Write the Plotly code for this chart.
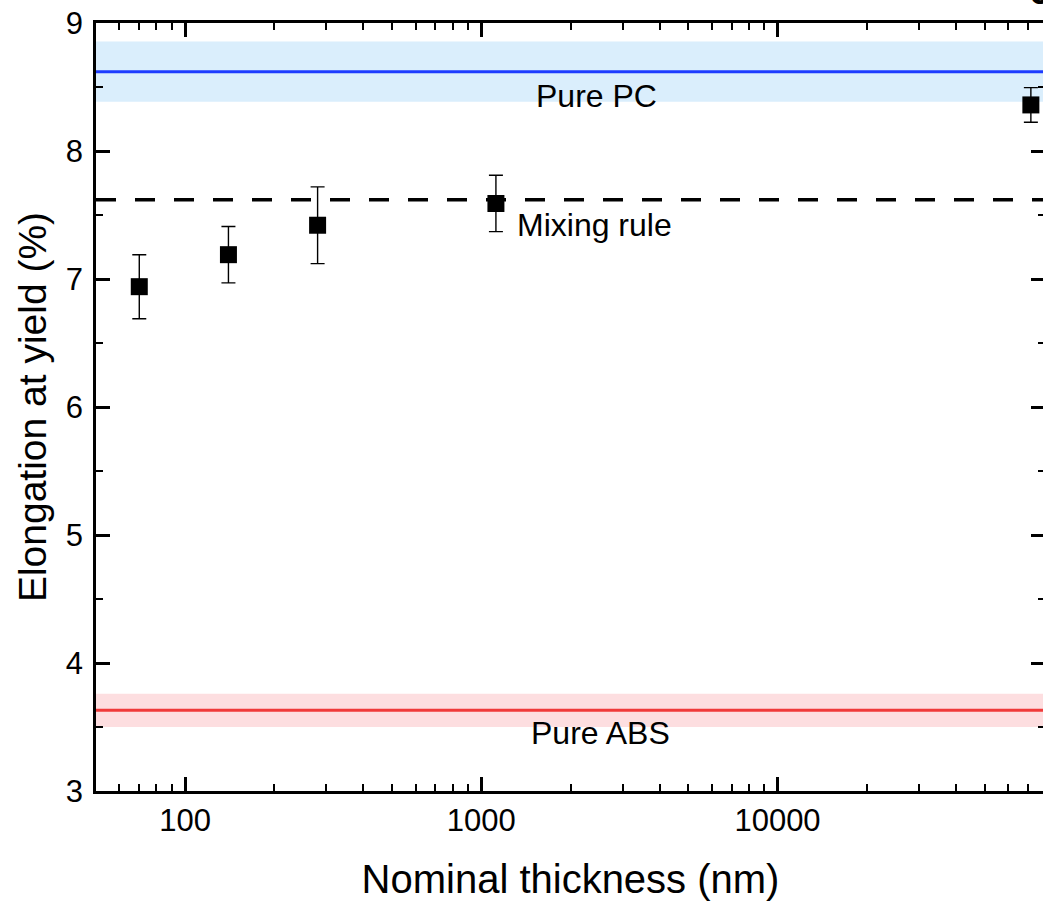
import math
import plotly.graph_objects as go

# measured films
thickness_nm = [70, 140, 280, 1120, 71680]
elongation = [6.94, 7.19, 7.42, 7.59, 8.36]
elongation_err = [0.25, 0.22, 0.30, 0.22, 0.135]

# reference values
pc_mean, pc_sd = 8.62, 0.235
abs_mean, abs_sd = 3.63, 0.13
mixing_rule = 7.62

x_major = [100, 1000, 10000]
x_minor = [60, 70, 80, 90] + [d * 100 for d in range(2, 10)] + \
          [d * 1000 for d in range(2, 10)] + [d * 10000 for d in range(2, 8)]

FONT = "Liberation Sans, Arial, sans-serif"

fig = go.Figure()

# bands and reference lines
fig.add_hrect(y0=pc_mean - pc_sd, y1=pc_mean + pc_sd, fillcolor='#DAEEFC',
              line_width=0, layer='below')
fig.add_hrect(y0=abs_mean - abs_sd, y1=abs_mean + abs_sd, fillcolor='#FDDEE0',
              line_width=0, layer='below')
fig.add_hline(y=pc_mean, line_color='#1E3CFF', line_width=3, layer='below')
fig.add_hline(y=abs_mean, line_color='#F03A3A', line_width=3, layer='below')
fig.add_hline(y=mixing_rule, line_color='black', line_width=3.5,
              line_dash='20px,19px', layer='below')

fig.add_trace(go.Scatter(
    x=thickness_nm, y=elongation,
    mode='markers',
    marker=dict(symbol='square', size=17, color='black'),
    error_y=dict(type='data', array=elongation_err, color='black',
                 thickness=1.4, width=7),
    showlegend=False,
))

label_font = dict(family=FONT, size=32, color='black')
fig.add_annotation(x=math.log10(2440), y=8.43, text='Pure PC', showarrow=False,
                   font=label_font)
fig.add_annotation(x=math.log10(1300), y=7.42, text='Mixing rule', showarrow=False,
                   xanchor='left', font=label_font)
fig.add_annotation(x=math.log10(2520), y=3.45, text='Pure ABS', showarrow=False,
                   font=label_font)

# panel letter, mostly cut off at the top right
fig.add_annotation(xref='paper', yref='paper', x=0.981, y=1.0117,
                   xanchor='left', yanchor='bottom', text='<b>c</b>',
                   showarrow=False, font=dict(family=FONT, size=40, color='black'))

axis_common = dict(
    showline=True, linecolor='black', linewidth=2.5, mirror='allticks',
    ticks='inside', ticklen=14, tickwidth=2.5, tickcolor='black',
    showgrid=False, zeroline=False,
    tickfont=dict(family=FONT, size=31, color='black'),
)

fig.update_xaxes(
    type='log', range=[math.log10(50), math.log10(80000)],
    tickvals=x_major, ticktext=[str(v) for v in x_major],
    minor=dict(tickvals=x_minor, ticks='inside', ticklen=7, tickwidth=2,
               tickcolor='black', showgrid=False),
    title_text='Nominal thickness (nm)', title_standoff=32,
    title_font=dict(family=FONT, size=40, color='black'),
    **axis_common
)
fig.update_yaxes(
    range=[3, 9], dtick=1,
    minor=dict(dtick=0.5, ticks='inside', ticklen=7, tickwidth=2,
               tickcolor='black', showgrid=False),
    ticklabelstandoff=4,
    title_text='Elongation at yield (%)', title_standoff=8,
    title_font=dict(family=FONT, size=39, color='black'),
    **axis_common
)

fig.update_layout(
    width=1048, height=901,
    margin=dict(l=96, r=0, t=23, b=110),
    plot_bgcolor='white', paper_bgcolor='white',
    font=dict(family=FONT),
)

# page without the default body margin, right edge runs past the window
fig.write_html("out.html",
               config={'displayModeBar': False},
               post_script="document.body.style.margin='0';"
                           "document.body.style.overflow='hidden';")
